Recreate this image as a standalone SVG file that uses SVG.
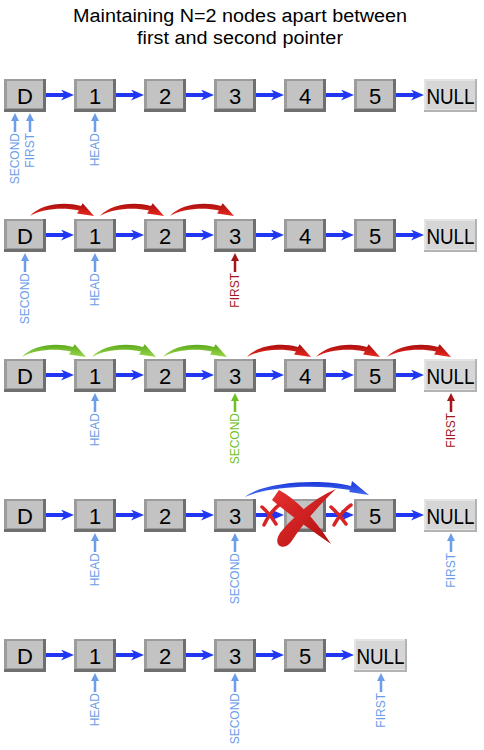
<svg xmlns="http://www.w3.org/2000/svg" xmlns:xlink="http://www.w3.org/1999/xlink" width="484" height="750" viewBox="0 0 484 750">
<style>
.title{font-family:"Liberation Sans",Arial,sans-serif;font-size:18px;fill:#000;text-anchor:middle}
.bo{fill:#6f6f6f}.bh{fill:#9c9c9c}.bi{fill:#c3c3c3}
.no{fill:#b3b3b3}.nh{fill:#e4e4e4}.ni{fill:#d6d6d6}
.bt{font-family:"Liberation Sans",Arial,sans-serif;font-size:22px;fill:#000;text-anchor:middle}
.pt{font-family:"Liberation Sans",Arial,sans-serif;font-size:12px;text-anchor:end}
.lb{fill:#6b9de8}.dr{fill:#a3161a}.gn{fill:#6fbf25}
.ln{stroke:#2036f2;stroke-width:4;fill:none}
.pl{stroke-width:2.5;fill:none}
</style>
<defs>
<marker id="ab" markerUnits="userSpaceOnUse" markerWidth="13" markerHeight="11" refX="7" refY="5.5" orient="auto" viewBox="0 0 13 11"><path d="M0,0 L13,5.5 L0,11 L4,5.5 Z" fill="#2036f2"/></marker>
<marker id="mlb" markerUnits="userSpaceOnUse" markerWidth="8" markerHeight="8" refX="2" refY="4" orient="auto" viewBox="0 0 8 8"><path d="M0,0 L8,4 L0,8 Z" fill="#6b9de8"/></marker>
<marker id="mdr" markerUnits="userSpaceOnUse" markerWidth="8" markerHeight="8" refX="2" refY="4" orient="auto" viewBox="0 0 8 8"><path d="M0,0 L8,4 L0,8 Z" fill="#a3161a"/></marker>
<marker id="mgn" markerUnits="userSpaceOnUse" markerWidth="8" markerHeight="8" refX="2" refY="4" orient="auto" viewBox="0 0 8 8"><path d="M0,0 L8,4 L0,8 Z" fill="#6fbf25"/></marker>
<linearGradient id="gr" x1="0" y1="0" x2="0" y2="1"><stop offset="0" stop-color="#a80e0e"/><stop offset="1" stop-color="#e82a20"/></linearGradient>
<linearGradient id="gg" x1="0" y1="0" x2="0" y2="1"><stop offset="0" stop-color="#5aa81a"/><stop offset="1" stop-color="#9ad84a"/></linearGradient>
<linearGradient id="gb" x1="0" y1="0" x2="0" y2="1"><stop offset="0" stop-color="#1a34d8"/><stop offset="1" stop-color="#4a74f4"/></linearGradient>
<linearGradient id="gx" x1="0" y1="0" x2="1" y2="1"><stop offset="0" stop-color="#e83030"/><stop offset="1" stop-color="#b01010"/></linearGradient>
<path id="sw" d="M0,0 C10,-11 32,-15 51,-10 L52.7,-12.8 L64,0 L47,-2.5 L49,-5.5 C32,-9 12,-7 0,0 Z"/>
<g id="box"><rect class="bo" width="42" height="33"/><rect class="bh" width="39" height="30"/><rect class="bi" x="3" y="2" width="36" height="27"/></g>
<g id="nbox"><rect class="no" width="53" height="33"/><rect class="nh" width="51" height="31"/><rect class="ni" x="2" y="2" width="49" height="28"/></g>
</defs>
<rect width="484" height="750" fill="#fff"/>
<g id="title">
<text class="title" x="240" y="22" textLength="334" lengthAdjust="spacingAndGlyphs">Maintaining N=2 nodes apart between</text>
<text class="title" x="240" y="44" textLength="206" lengthAdjust="spacingAndGlyphs">first and second pointer</text>
</g>

<g id="connectors">
<g>
<line class="ln" x1="46" y1="95" x2="68" y2="95" marker-end="url(#ab)"/>
<line class="ln" x1="116" y1="95" x2="138" y2="95" marker-end="url(#ab)"/>
<line class="ln" x1="186" y1="95" x2="208" y2="95" marker-end="url(#ab)"/>
<line class="ln" x1="256" y1="95" x2="278" y2="95" marker-end="url(#ab)"/>
<line class="ln" x1="326" y1="95" x2="348" y2="95" marker-end="url(#ab)"/>
<line class="ln" x1="396" y1="95" x2="418" y2="95" marker-end="url(#ab)"/>
</g>
<g>
<line class="ln" x1="46" y1="235" x2="68" y2="235" marker-end="url(#ab)"/>
<line class="ln" x1="116" y1="235" x2="138" y2="235" marker-end="url(#ab)"/>
<line class="ln" x1="186" y1="235" x2="208" y2="235" marker-end="url(#ab)"/>
<line class="ln" x1="256" y1="235" x2="278" y2="235" marker-end="url(#ab)"/>
<line class="ln" x1="326" y1="235" x2="348" y2="235" marker-end="url(#ab)"/>
<line class="ln" x1="396" y1="235" x2="418" y2="235" marker-end="url(#ab)"/>
<use href="#sw" transform="translate(30,216)" fill="url(#gr)"/>
<use href="#sw" transform="translate(100,216)" fill="url(#gr)"/>
<use href="#sw" transform="translate(170,216)" fill="url(#gr)"/>
</g>
<g>
<line class="ln" x1="46" y1="375" x2="68" y2="375" marker-end="url(#ab)"/>
<line class="ln" x1="116" y1="375" x2="138" y2="375" marker-end="url(#ab)"/>
<line class="ln" x1="186" y1="375" x2="208" y2="375" marker-end="url(#ab)"/>
<line class="ln" x1="256" y1="375" x2="278" y2="375" marker-end="url(#ab)"/>
<line class="ln" x1="326" y1="375" x2="348" y2="375" marker-end="url(#ab)"/>
<line class="ln" x1="396" y1="375" x2="418" y2="375" marker-end="url(#ab)"/>
<use href="#sw" transform="translate(22,357)" fill="url(#gg)"/>
<use href="#sw" transform="translate(92,357)" fill="url(#gg)"/>
<use href="#sw" transform="translate(163,357)" fill="url(#gg)"/>
<use href="#sw" transform="translate(247,357)" fill="url(#gr)"/>
<use href="#sw" transform="translate(316,357)" fill="url(#gr)"/>
<use href="#sw" transform="translate(387,357)" fill="url(#gr)"/>
</g>
<g>
<line class="ln" x1="46" y1="515" x2="68" y2="515" marker-end="url(#ab)"/>
<line class="ln" x1="116" y1="515" x2="138" y2="515" marker-end="url(#ab)"/>
<line class="ln" x1="186" y1="515" x2="208" y2="515" marker-end="url(#ab)"/>
<line class="ln" x1="256" y1="515" x2="278" y2="515" marker-end="url(#ab)"/>
<line class="ln" x1="326" y1="515" x2="348" y2="515" marker-end="url(#ab)"/>
<line class="ln" x1="396" y1="515" x2="418" y2="515" marker-end="url(#ab)"/>
<path d="M245,497 C262,482 320,478 351,486 L352,481 L369,495 L349,492 L350,490 C318,484 268,486 245,497 Z" fill="url(#gb)"/>
</g>
<g>
<line class="ln" x1="46" y1="655" x2="68" y2="655" marker-end="url(#ab)"/>
<line class="ln" x1="116" y1="655" x2="138" y2="655" marker-end="url(#ab)"/>
<line class="ln" x1="186" y1="655" x2="208" y2="655" marker-end="url(#ab)"/>
<line class="ln" x1="256" y1="655" x2="278" y2="655" marker-end="url(#ab)"/>
<line class="ln" x1="326" y1="655" x2="348" y2="655" marker-end="url(#ab)"/>
</g>
<g>
<line class="pl" stroke="#6b9de8" x1="15" y1="132" x2="15" y2="119" marker-end="url(#mlb)"/>
<line class="pl" stroke="#6b9de8" x1="30" y1="132" x2="30" y2="119" marker-end="url(#mlb)"/>
<line class="pl" stroke="#6b9de8" x1="95" y1="132" x2="95" y2="119" marker-end="url(#mlb)"/>
<line class="pl" stroke="#6b9de8" x1="25" y1="272" x2="25" y2="259" marker-end="url(#mlb)"/>
<line class="pl" stroke="#6b9de8" x1="95" y1="272" x2="95" y2="259" marker-end="url(#mlb)"/>
<line class="pl" stroke="#a3161a" x1="235" y1="272" x2="235" y2="259" marker-end="url(#mdr)"/>
<line class="pl" stroke="#6b9de8" x1="95" y1="412" x2="95" y2="399" marker-end="url(#mlb)"/>
<line class="pl" stroke="#6fbf25" x1="235" y1="412" x2="235" y2="399" marker-end="url(#mgn)"/>
<line class="pl" stroke="#a3161a" x1="451" y1="412" x2="451" y2="399" marker-end="url(#mdr)"/>
<line class="pl" stroke="#6b9de8" x1="95" y1="552" x2="95" y2="539" marker-end="url(#mlb)"/>
<line class="pl" stroke="#6b9de8" x1="235" y1="552" x2="235" y2="539" marker-end="url(#mlb)"/>
<line class="pl" stroke="#6b9de8" x1="451" y1="552" x2="451" y2="539" marker-end="url(#mlb)"/>
<line class="pl" stroke="#6b9de8" x1="95" y1="692" x2="95" y2="679" marker-end="url(#mlb)"/>
<line class="pl" stroke="#6b9de8" x1="235" y1="692" x2="235" y2="679" marker-end="url(#mlb)"/>
<line class="pl" stroke="#6b9de8" x1="381" y1="692" x2="381" y2="679" marker-end="url(#mlb)"/>
</g>
</g>

<g id="r1-D" transform="translate(4,79)"><use href="#box"/><text class="bt" x="21" y="24.5">D</text></g>
<g id="r1-1" transform="translate(74,79)"><use href="#box"/><text class="bt" x="21" y="24.5">1</text></g>
<g id="r1-2" transform="translate(144,79)"><use href="#box"/><text class="bt" x="21" y="24.5">2</text></g>
<g id="r1-3" transform="translate(214,79)"><use href="#box"/><text class="bt" x="21" y="24.5">3</text></g>
<g id="r1-4" transform="translate(284,79)"><use href="#box"/><text class="bt" x="21" y="24.5">4</text></g>
<g id="r1-5" transform="translate(354,79)"><use href="#box"/><text class="bt" x="21" y="24.5">5</text></g>
<g id="r1-null" transform="translate(424,79)"><use href="#nbox"/><text class="bt" x="26.5" y="24.5" textLength="48" lengthAdjust="spacingAndGlyphs">NULL</text></g>
<g id="r2-D" transform="translate(4,219)"><use href="#box"/><text class="bt" x="21" y="24.5">D</text></g>
<g id="r2-1" transform="translate(74,219)"><use href="#box"/><text class="bt" x="21" y="24.5">1</text></g>
<g id="r2-2" transform="translate(144,219)"><use href="#box"/><text class="bt" x="21" y="24.5">2</text></g>
<g id="r2-3" transform="translate(214,219)"><use href="#box"/><text class="bt" x="21" y="24.5">3</text></g>
<g id="r2-4" transform="translate(284,219)"><use href="#box"/><text class="bt" x="21" y="24.5">4</text></g>
<g id="r2-5" transform="translate(354,219)"><use href="#box"/><text class="bt" x="21" y="24.5">5</text></g>
<g id="r2-null" transform="translate(424,219)"><use href="#nbox"/><text class="bt" x="26.5" y="24.5" textLength="48" lengthAdjust="spacingAndGlyphs">NULL</text></g>
<g id="r3-D" transform="translate(4,359)"><use href="#box"/><text class="bt" x="21" y="24.5">D</text></g>
<g id="r3-1" transform="translate(74,359)"><use href="#box"/><text class="bt" x="21" y="24.5">1</text></g>
<g id="r3-2" transform="translate(144,359)"><use href="#box"/><text class="bt" x="21" y="24.5">2</text></g>
<g id="r3-3" transform="translate(214,359)"><use href="#box"/><text class="bt" x="21" y="24.5">3</text></g>
<g id="r3-4" transform="translate(284,359)"><use href="#box"/><text class="bt" x="21" y="24.5">4</text></g>
<g id="r3-5" transform="translate(354,359)"><use href="#box"/><text class="bt" x="21" y="24.5">5</text></g>
<g id="r3-null" transform="translate(424,359)"><use href="#nbox"/><text class="bt" x="26.5" y="24.5" textLength="48" lengthAdjust="spacingAndGlyphs">NULL</text></g>
<g id="r4-D" transform="translate(4,499)"><use href="#box"/><text class="bt" x="21" y="24.5">D</text></g>
<g id="r4-1" transform="translate(74,499)"><use href="#box"/><text class="bt" x="21" y="24.5">1</text></g>
<g id="r4-2" transform="translate(144,499)"><use href="#box"/><text class="bt" x="21" y="24.5">2</text></g>
<g id="r4-3" transform="translate(214,499)"><use href="#box"/><text class="bt" x="21" y="24.5">3</text></g>
<g id="r4-4" transform="translate(284,499)"><use href="#box"/><text class="bt" x="21" y="24.5">4</text></g>
<g id="r4-5" transform="translate(354,499)"><use href="#box"/><text class="bt" x="21" y="24.5">5</text></g>
<g id="r4-null" transform="translate(424,499)"><use href="#nbox"/><text class="bt" x="26.5" y="24.5" textLength="48" lengthAdjust="spacingAndGlyphs">NULL</text></g>
<g id="r4-cross">
<path d="M279,490 Q305,504 331,544 Q296,520 272,500 Z" fill="url(#gx)"/>
<path d="M336,489 C314,498 291,519 280,533 C272,545 283,552 291,542 C302,525 319,505 336,489 Z" fill="url(#gx)"/>
<g stroke="#d82424" stroke-width="3.5" stroke-linecap="round" fill="none">
<path d="M262,507 Q270,514 276,524"/><path d="M279,505 Q270,512 264,525"/>
<path d="M331,507 Q339,514 346,524"/><path d="M351,505 Q341,512 334,525"/>
</g>
</g>
<g id="r5-D" transform="translate(4,639)"><use href="#box"/><text class="bt" x="21" y="24.5">D</text></g>
<g id="r5-1" transform="translate(74,639)"><use href="#box"/><text class="bt" x="21" y="24.5">1</text></g>
<g id="r5-2" transform="translate(144,639)"><use href="#box"/><text class="bt" x="21" y="24.5">2</text></g>
<g id="r5-3" transform="translate(214,639)"><use href="#box"/><text class="bt" x="21" y="24.5">3</text></g>
<g id="r5-5" transform="translate(284,639)"><use href="#box"/><text class="bt" x="21" y="24.5">5</text></g>
<g id="r5-null" transform="translate(354,639)"><use href="#nbox"/><text class="bt" x="26.5" y="24.5" textLength="48" lengthAdjust="spacingAndGlyphs">NULL</text></g>

<g id="labels">
<text class="pt lb" transform="translate(19.3,133) rotate(-90)">SECOND</text>
<text class="pt lb" transform="translate(34.3,133) rotate(-90)">FIRST</text>
<text class="pt lb" transform="translate(99.3,133) rotate(-90)">HEAD</text>
<text class="pt lb" transform="translate(29.3,273) rotate(-90)">SECOND</text>
<text class="pt lb" transform="translate(99.3,273) rotate(-90)">HEAD</text>
<text class="pt dr" transform="translate(239.3,273) rotate(-90)">FIRST</text>
<text class="pt lb" transform="translate(99.3,413) rotate(-90)">HEAD</text>
<text class="pt gn" transform="translate(239.3,413) rotate(-90)">SECOND</text>
<text class="pt dr" transform="translate(455.3,413) rotate(-90)">FIRST</text>
<text class="pt lb" transform="translate(99.3,553) rotate(-90)">HEAD</text>
<text class="pt lb" transform="translate(239.3,553) rotate(-90)">SECOND</text>
<text class="pt lb" transform="translate(455.3,553) rotate(-90)">FIRST</text>
<text class="pt lb" transform="translate(99.3,693) rotate(-90)">HEAD</text>
<text class="pt lb" transform="translate(239.3,693) rotate(-90)">SECOND</text>
<text class="pt lb" transform="translate(385.3,693) rotate(-90)">FIRST</text>
</g>
</svg>
